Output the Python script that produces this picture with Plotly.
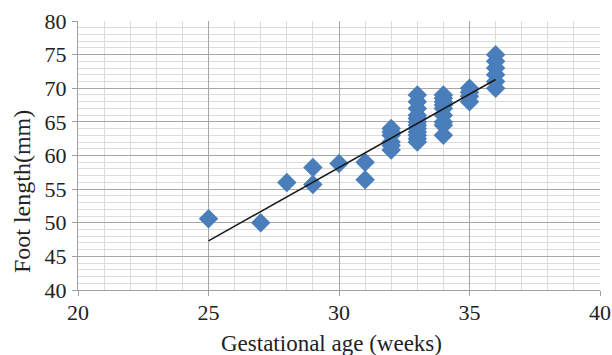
import plotly.graph_objects as go

ages = [25, 27, 28, 29, 29, 30, 31, 31,
        32, 32, 32, 32, 32, 32,
        33, 33, 33, 33, 33, 33, 33, 33, 33, 33, 33, 33,
        34, 34, 34, 34, 34, 34, 34, 34, 34,
        35, 35, 35, 35,
        36, 36, 36, 36, 36, 36]
foot = [50.6, 50.0, 56.0, 58.2, 55.7, 58.8, 59.0, 56.4,
        60.8, 61.5, 62.0, 63.0, 63.5, 64.0,
        62.0, 62.5, 63.0, 63.5, 64.0, 64.5, 65.0, 65.5, 66.0, 67.0, 68.0, 69.0,
        63.0, 64.5, 65.0, 66.0, 67.0, 67.5, 68.0, 68.5, 69.0,
        68.0, 68.8, 69.4, 70.0,
        70.0, 71.0, 72.0, 73.0, 74.0, 75.0]
trend_x = [25, 36]
trend_y = [47.3, 71.3]
x_title = "Gestational age (weeks)"
y_title = "Foot length(mm)"

fig = go.Figure()
fig.add_trace(go.Scatter(x=ages, y=foot, mode="markers",
                         marker=dict(symbol="diamond", size=15, color="#4a7ebb"),
                         showlegend=False, cliponaxis=False))
fig.add_trace(go.Scatter(x=trend_x, y=trend_y, mode="lines",
                         line=dict(color="#1a1a1a", width=1.6), showlegend=False))

tickfont = dict(family="Liberation Serif", size=22, color="#222")
fig.update_layout(
    width=612, height=355,
    margin=dict(l=78, r=12, t=21, b=65),
    paper_bgcolor="white", plot_bgcolor="white",
    font=tickfont,
)
common = dict(showgrid=True, gridcolor="#a6a6a6", gridwidth=1.3,
              showline=True, linecolor="#a0a0a0", linewidth=1.3,
              ticks="outside", ticklen=5, tickcolor="#a0a0a0",
              zeroline=False, automargin=False, tickfont=tickfont)
fig.update_xaxes(range=[20, 40], dtick=5, tick0=20, ticklabelstandoff=-3,
                 minor=dict(dtick=1, showgrid=True, gridcolor="#dcdcdc", gridwidth=1.3),
                 **common)
fig.update_yaxes(range=[40, 80], dtick=5, tick0=40, ticklabelstandoff=1,
                 minor=dict(dtick=1, showgrid=True, gridcolor="#dcdcdc", gridwidth=1.3),
                 **common)
fig.add_annotation(text=x_title, xref="paper", yref="paper", x=0.485, y=0,
                   yshift=-53, xanchor="center", yanchor="middle", showarrow=False,
                   font=dict(family="Liberation Serif", size=23, color="#222"))
fig.add_annotation(text=y_title, xref="paper", yref="paper", x=0, y=0.364,
                   xshift=-56, xanchor="center", yanchor="middle", textangle=-90,
                   showarrow=False,
                   font=dict(family="Liberation Serif", size=24, color="#222"))
fig.write_html("out.html", config={"displayModeBar": False},
               post_script="document.body.style.margin='0';document.body.style.overflow='hidden';")
